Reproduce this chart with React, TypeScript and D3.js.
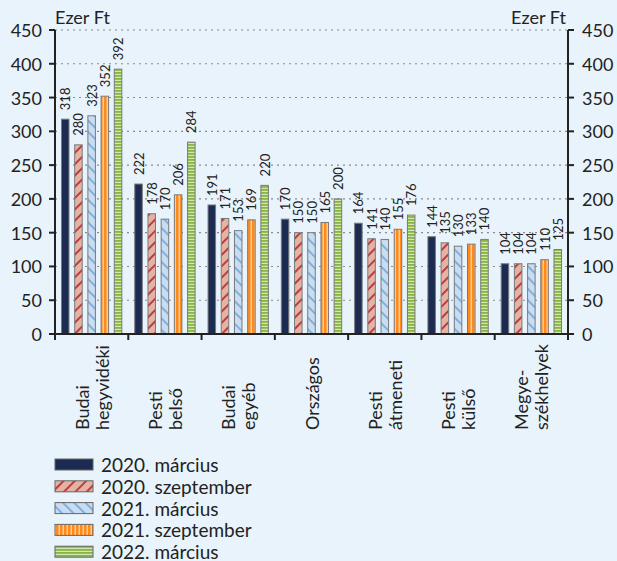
import React from 'react';
import * as d3 from 'd3';

const categories: string[][] = [
  ['Budai', 'hegyvidéki'],
  ['Pesti', 'belső'],
  ['Budai', 'egyéb'],
  ['Országos'],
  ['Pesti', 'átmeneti'],
  ['Pesti', 'külső'],
  ['Megye-', 'székhelyek'],
];
const seriesNames = ['2020. március', '2020. szeptember', '2021. március', '2021. szeptember', '2022. március'];
const s2020mar = [318, 222, 191, 170, 164, 144, 104];
const s2020sep = [280, 178, 171, 150, 141, 135, 104];
const s2021mar = [323, 170, 153, 150, 140, 130, 104];
const s2021sep = [352, 206, 169, 165, 155, 133, 110];
const s2022mar = [392, 284, 220, 200, 176, 140, 125];
const yTicks = [0, 50, 100, 150, 200, 250, 300, 350, 400, 450];
const unitLabel = 'Ezer Ft';

const seriesValues = [s2020mar, s2020sep, s2021mar, s2021sep, s2022mar];
const fills = ['#1B2B52', 'url(#pRed)', 'url(#pBlue)', 'url(#pOrange)', 'url(#pGreen)'];

const W = 617;
const H = 561;
const FONT = 'Lato, "Noto Sans", sans-serif';
const BG = '#E8F3FB';
const INK = '#222222';

export default function App() {
  const left = 55;
  const right = 568;
  const top = 30;
  const bottom = 334;

  const catKeys = categories.map((c) => c.join(' '));
  const x0 = d3.scaleBand<string>().domain(catKeys).range([left, right]).paddingInner(0).paddingOuter(0);
  const x1 = d3
    .scaleBand<string>()
    .domain(seriesNames)
    .range([0, x0.bandwidth()])
    .paddingInner(0.43)
    .paddingOuter(0.49);
  const y = d3.scaleLinear().domain([0, 450]).range([bottom, top]);

  const boundaries = d3.range(categories.length + 1).map((i) => left + i * x0.step());

  return (
    <svg
      width={W}
      height={H}
      style={{ position: 'absolute', left: 0, top: 0, fontFamily: FONT }}
    >
      <defs>
        <pattern id="pRed" patternUnits="userSpaceOnUse" width={8} height={8} patternTransform="rotate(45)">
          <rect width={8} height={8} fill="#E3B4A4" />
          <line x1={1} y1={0} x2={1} y2={8} stroke="#B01E2C" strokeWidth={1.6} />
        </pattern>
        <pattern id="pBlue" patternUnits="userSpaceOnUse" width={8} height={8} patternTransform="rotate(-45)">
          <rect width={8} height={8} fill="#C8DDF1" />
          <line x1={1} y1={0} x2={1} y2={8} stroke="#72A2D6" strokeWidth={1.6} />
        </pattern>
        <pattern id="pOrange" patternUnits="userSpaceOnUse" width={4} height={4}>
          <rect width={4} height={4} fill="#FF8A1C" />
          <rect x={2.5} width={1.5} height={4} fill="#FFCB90" />
        </pattern>
        <pattern id="pGreen" patternUnits="userSpaceOnUse" width={3} height={3}>
          <rect width={3} height={3} fill="#88B444" />
          <rect y={1.8} width={3} height={1.2} fill="#D2E7B2" />
        </pattern>
      </defs>

      <rect x={0} y={0} width={W} height={H} fill={BG} />

      {/* gridlines */}
      {yTicks
        .filter((t) => t > 0)
        .map((t) => (
          <line
            key={'g' + t}
            x1={left}
            x2={right}
            y1={y(t)}
            y2={y(t)}
            stroke="#8A8A8A"
            strokeWidth={1.1}
            strokeDasharray="2 4"
          />
        ))}

      {/* bars */}
      {catKeys.map((ck, ci) =>
        seriesNames.map((sn, si) => {
          const v = seriesValues[si][ci];
          const bx = (x0(ck) as number) + (x1(sn) as number);
          const bw = x1.bandwidth();
          const by = y(v);
          const cx = bx + bw / 2;
          return (
            <g key={ck + sn}>
              <rect x={bx} y={by} width={bw} height={bottom - by} fill={fills[si]} stroke="#7A7A7A" strokeWidth={1} />
              <text
                transform={`translate(${cx},${by - 9}) rotate(-90)`}
                textAnchor="start"
                dominantBaseline="central"
                fontSize={13}
                fill={INK}
              >
                {v}
              </text>
            </g>
          );
        })
      )}

      {/* axes */}
      <line x1={left} x2={left} y1={top} y2={bottom} stroke={INK} strokeWidth={2} />
      <line x1={right} x2={right} y1={top} y2={bottom} stroke={INK} strokeWidth={2} />
      <line x1={left - 6} x2={right + 6} y1={bottom} y2={bottom} stroke={INK} strokeWidth={2} />
      {yTicks.map((t) => (
        <g key={'t' + t}>
          <line x1={left - 6} x2={left} y1={y(t)} y2={y(t)} stroke={INK} strokeWidth={2} />
          <line x1={right} x2={right + 6} y1={y(t)} y2={y(t)} stroke={INK} strokeWidth={2} />
          <text x={left - 13} y={y(t)} textAnchor="end" dominantBaseline="central" fontSize={18} fill={INK}>
            {t}
          </text>
          <text x={right + 14} y={y(t)} textAnchor="start" dominantBaseline="central" fontSize={18} fill={INK}>
            {t}
          </text>
        </g>
      ))}
      {boundaries.map((bx, i) => (
        <line key={'b' + i} x1={bx} x2={bx} y1={bottom} y2={bottom + 6} stroke={INK} strokeWidth={2} />
      ))}

      <text x={left} y={24} fontSize={18} fill={INK}>
        {unitLabel}
      </text>
      <text x={right - 2} y={24} fontSize={18} textAnchor="end" fill={INK}>
        {unitLabel}
      </text>

      {/* category labels */}
      {categories.map((lines, ci) => {
        const cx = (x0(catKeys[ci]) as number) + x0.bandwidth() / 2;
        const lh = 20;
        return lines.map((ln, li) => {
          const off = (li - (lines.length - 1) / 2) * lh;
          return (
            <text
              key={'c' + ci + li}
              transform={`translate(${cx + off},430) rotate(-90)`}
              textAnchor="start"
              dominantBaseline="central"
              fontSize={18}
              fill={INK}
            >
              {ln}
            </text>
          );
        });
      })}

      {/* legend */}
      {seriesNames.map((sn, si) => {
        const cy = 464.5 + si * 21.8;
        return (
          <g key={'l' + sn}>
            <rect x={55} y={cy - 5.5} width={38} height={11} fill={fills[si]} stroke="#666666" strokeWidth={1} />
            <text x={101} y={cy} dominantBaseline="central" fontSize={19} fill={INK}>
              {sn}
            </text>
          </g>
        );
      })}
    </svg>
  );
}
